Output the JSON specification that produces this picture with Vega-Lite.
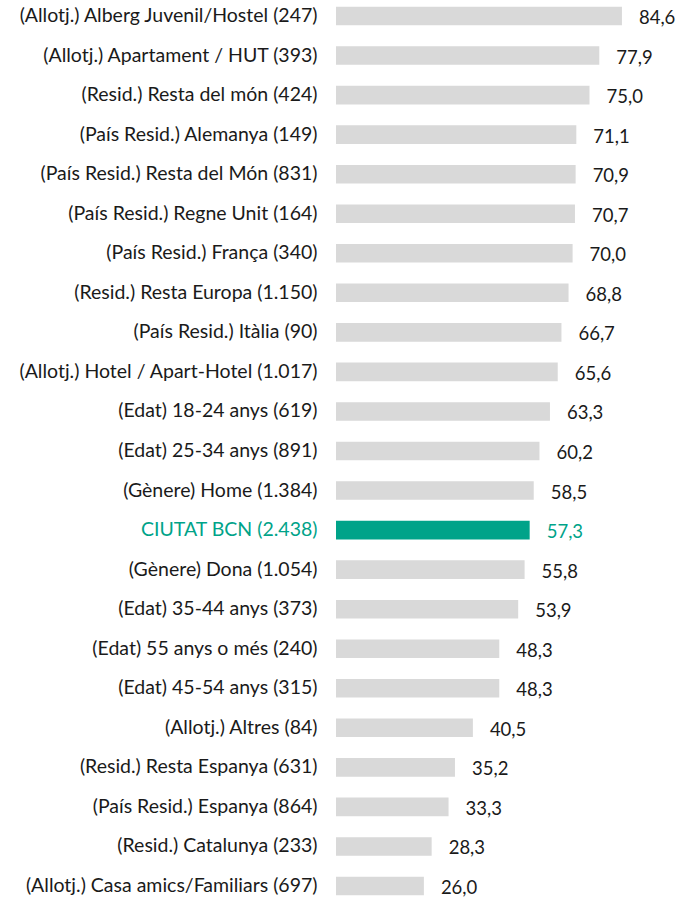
{
  "$schema": "https://vega.github.io/schema/vega-lite/v6.json",
  "width": 338,
  "height": 902,
  "padding": {"left": 336, "top": 0, "right": 17, "bottom": 2},
  "autosize": {"type": "none"},
  "background": "#ffffff",
  "config": {
    "view": {"stroke": null},
    "locale": {"number": {"decimal": ",", "thousands": ".", "grouping": [3], "currency": ["", " €"]}},
    "font": "Lato"
  },
  "data": {
    "values": [
      {"cat": "(Allotj.) Alberg Juvenil/Hostel (247)", "v": 84.6},
      {"cat": "(Allotj.) Apartament / HUT (393)", "v": 77.9},
      {"cat": "(Resid.) Resta del món (424)", "v": 75.0},
      {"cat": "(País Resid.) Alemanya (149)", "v": 71.1},
      {"cat": "(País Resid.) Resta del Món (831)", "v": 70.9},
      {"cat": "(País Resid.) Regne Unit (164)", "v": 70.7},
      {"cat": "(País Resid.) França (340)", "v": 70.0},
      {"cat": "(Resid.) Resta Europa (1.150)", "v": 68.8},
      {"cat": "(País Resid.) Itàlia (90)", "v": 66.7},
      {"cat": "(Allotj.) Hotel / Apart-Hotel (1.017)", "v": 65.6},
      {"cat": "(Edat) 18-24 anys (619)", "v": 63.3},
      {"cat": "(Edat) 25-34 anys (891)", "v": 60.2},
      {"cat": "(Gènere) Home (1.384)", "v": 58.5},
      {"cat": "CIUTAT BCN (2.438)", "v": 57.3, "hl": true},
      {"cat": "(Gènere) Dona (1.054)", "v": 55.8},
      {"cat": "(Edat) 35-44 anys (373)", "v": 53.9},
      {"cat": "(Edat) 55 anys o més (240)", "v": 48.3},
      {"cat": "(Edat) 45-54 anys (315)", "v": 48.3},
      {"cat": "(Allotj.) Altres (84)", "v": 40.5},
      {"cat": "(Resid.) Resta Espanya (631)", "v": 35.2},
      {"cat": "(País Resid.) Espanya (864)", "v": 33.3},
      {"cat": "(Resid.) Catalunya (233)", "v": 28.3},
      {"cat": "(Allotj.) Casa amics/Familiars (697)", "v": 26.0}
    ]
  },
  "encoding": {
    "y": {
      "field": "cat",
      "type": "nominal",
      "sort": null,
      "title": null,
      "scale": {"paddingInner": 0.53, "paddingOuter": 0.17},
      "axis": {
        "domain": false,
        "ticks": false,
        "labelFont": "Lato",
        "labelFontSize": 19.5,
        "labelPadding": 19,
        "labelLimit": 400,
        "labelColor": {"condition": {"test": "datum.value === 'CIUTAT BCN (2.438)'", "value": "#00A389"}, "value": "#1a1a1a"}
      }
    },
    "x": {
      "field": "v",
      "type": "quantitative",
      "scale": {"domain": [0, 100]},
      "axis": null
    }
  },
  "layer": [
    {
      "mark": {"type": "bar"},
      "encoding": {
        "color": {
          "condition": {"test": "datum.hl", "value": "#00A389"},
          "value": "#D9D9D9"
        }
      }
    },
    {
      "mark": {"type": "text", "align": "left", "baseline": "middle", "dx": 17, "dy": 2, "fontSize": 18.5, "font": "Lato"},
      "encoding": {
        "text": {"field": "v", "type": "quantitative", "format": ".1f"},
        "color": {
          "condition": {"test": "datum.hl", "value": "#00A389"},
          "value": "#1a1a1a"
        }
      }
    }
  ]
}
